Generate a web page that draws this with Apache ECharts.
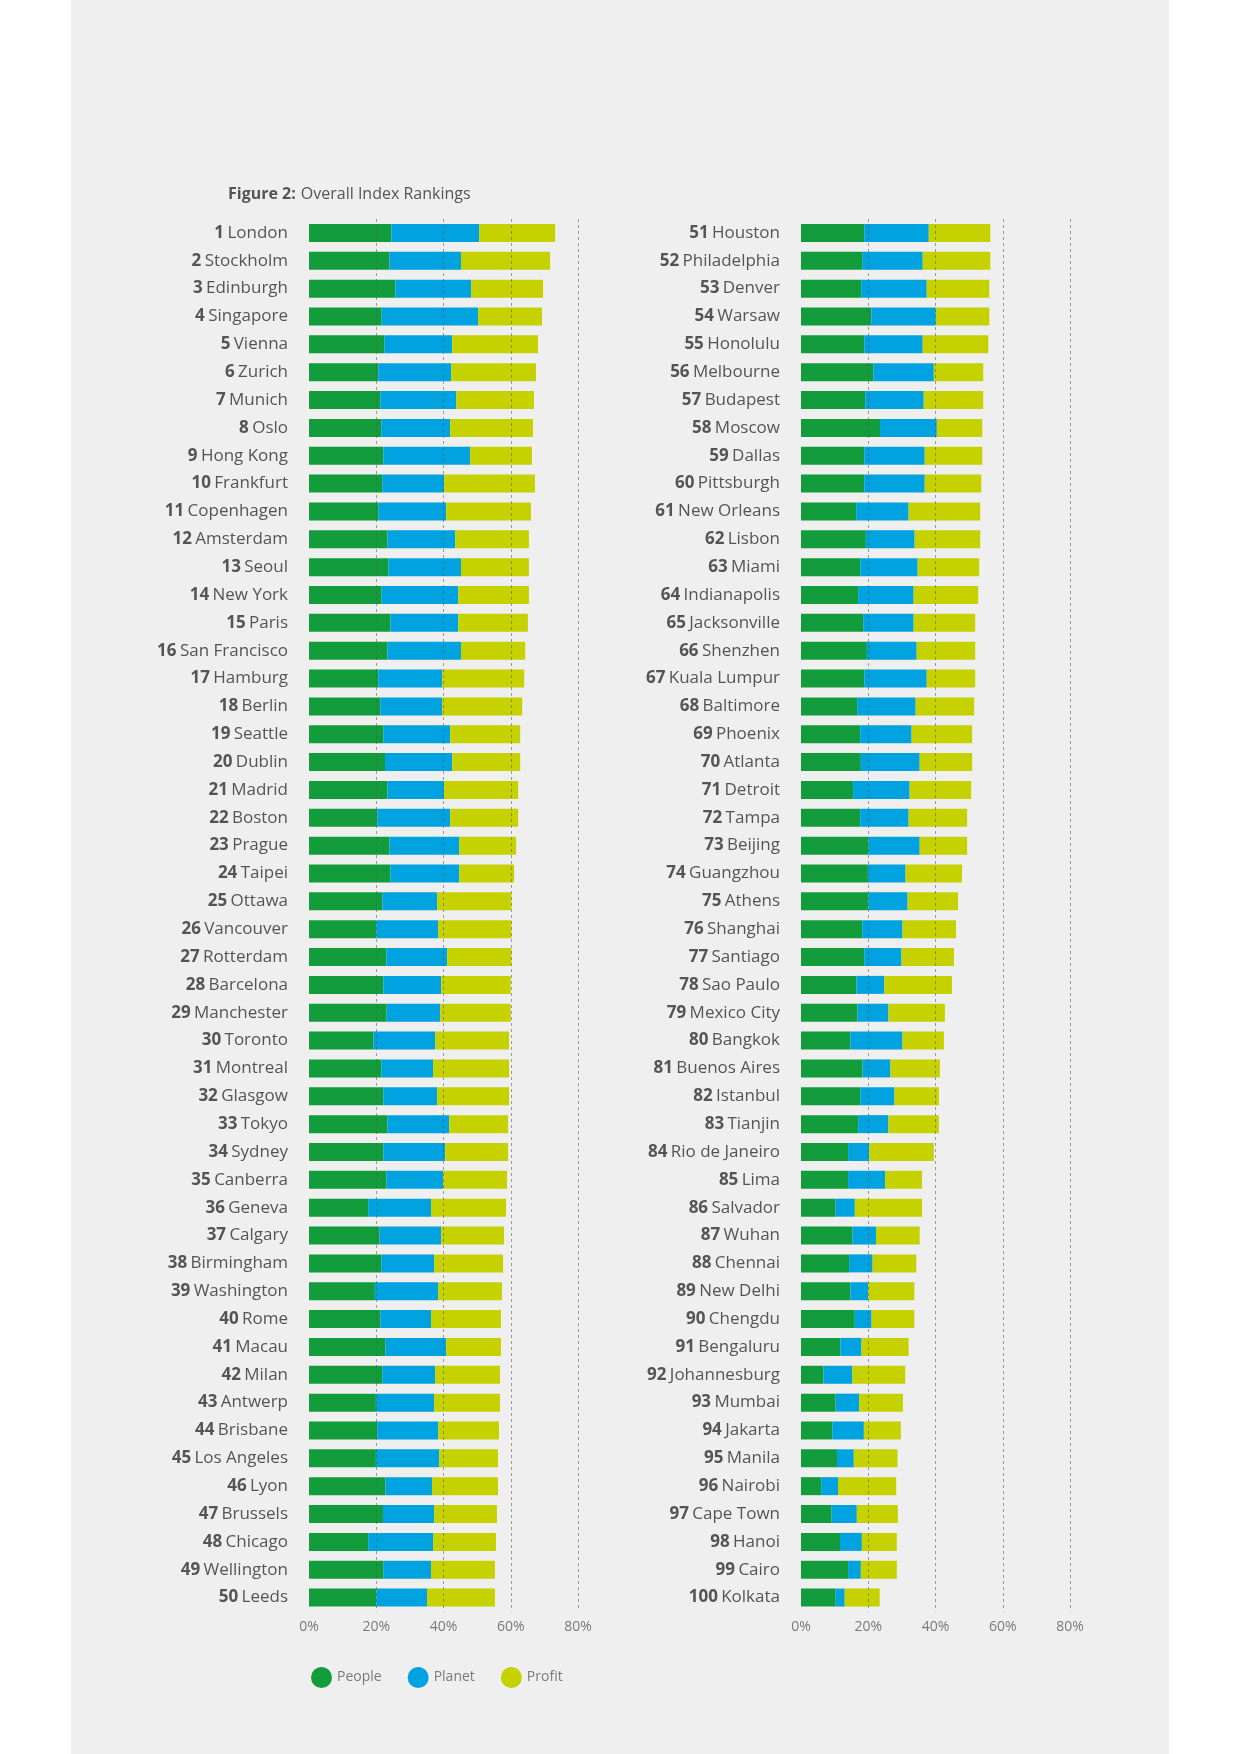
<!DOCTYPE html>
<html lang="en">
<head>
    <meta charset="UTF-8" />
    <title>Figure 2: Overall Index Rankings</title>
    <script src="https://cdn.jsdelivr.net/npm/echarts@6.0.0/dist/echarts.min.js"></script>
    <style>
        body {
            margin: 0;
            padding: 0;
            background: #ffffff;
        }
        #chart {
            width: 1240px;
            height: 1754px;
        }
    </style>
</head>
<body>
    <div id="chart"></div>

    <script>
        // cities in rank order, 1..100
        const cities = [
            'London', 'Stockholm', 'Edinburgh', 'Singapore', 'Vienna', 'Zurich', 'Munich', 'Oslo', 'Hong Kong', 'Frankfurt',
            'Copenhagen', 'Amsterdam', 'Seoul', 'New York', 'Paris', 'San Francisco', 'Hamburg', 'Berlin', 'Seattle', 'Dublin',
            'Madrid', 'Boston', 'Prague', 'Taipei', 'Ottawa', 'Vancouver', 'Rotterdam', 'Barcelona', 'Manchester', 'Toronto',
            'Montreal', 'Glasgow', 'Tokyo', 'Sydney', 'Canberra', 'Geneva', 'Calgary', 'Birmingham', 'Washington', 'Rome',
            'Macau', 'Milan', 'Antwerp', 'Brisbane', 'Los Angeles', 'Lyon', 'Brussels', 'Chicago', 'Wellington', 'Leeds',
            'Houston', 'Philadelphia', 'Denver', 'Warsaw', 'Honolulu', 'Melbourne', 'Budapest', 'Moscow', 'Dallas', 'Pittsburgh',
            'New Orleans', 'Lisbon', 'Miami', 'Indianapolis', 'Jacksonville', 'Shenzhen', 'Kuala Lumpur', 'Baltimore', 'Phoenix', 'Atlanta',
            'Detroit', 'Tampa', 'Beijing', 'Guangzhou', 'Athens', 'Shanghai', 'Santiago', 'Sao Paulo', 'Mexico City', 'Bangkok',
            'Buenos Aires', 'Istanbul', 'Tianjin', 'Rio de Janeiro', 'Lima', 'Salvador', 'Wuhan', 'Chennai', 'New Delhi', 'Chengdu',
            'Bengaluru', 'Johannesburg', 'Mumbai', 'Jakarta', 'Manila', 'Nairobi', 'Cape Town', 'Hanoi', 'Cairo', 'Kolkata'
        ];

        // sub-index contributions, %
        const people = [
            24.5, 23.9, 25.7, 21.6, 22.4, 20.6, 21.2, 21.5, 22.1, 21.8,
            20.6, 23.3, 23.6, 21.6, 24.2, 23.3, 20.6, 21.2, 22.1, 22.6,
            23.3, 20.3, 23.9, 24.2, 21.8, 20.0, 23.0, 22.1, 23.1, 19.2,
            21.5, 22.1, 23.3, 22.1, 23.0, 17.6, 21.0, 21.5, 19.6, 21.2,
            22.7, 21.8, 19.9, 20.3, 19.9, 22.7, 22.0, 17.6, 22.1, 20.0,
            18.8, 18.2, 17.9, 20.9, 18.8, 21.5, 19.1, 23.5, 18.8, 18.8,
            16.4, 19.3, 17.6, 17.0, 18.5, 19.6, 18.8, 16.7, 17.6, 17.8,
            15.5, 17.6, 20.0, 19.9, 20.1, 18.2, 18.8, 16.5, 16.8, 14.7,
            18.3, 17.6, 17.0, 14.0, 14.0, 10.3, 15.3, 14.3, 14.7, 16.0,
            11.7, 6.7, 10.3, 9.3, 10.7, 6.0, 9.1, 11.6, 14.0, 10.3
        ];
        const planet = [
            26.1, 21.3, 22.5, 28.7, 20.2, 21.7, 22.6, 20.5, 25.8, 18.4,
            20.2, 20.2, 21.6, 22.8, 20.2, 21.9, 19.0, 18.4, 19.9, 20.0,
            16.9, 21.7, 20.8, 20.5, 16.3, 18.4, 18.1, 17.2, 15.9, 18.3,
            15.4, 16.0, 18.4, 18.4, 16.9, 18.7, 18.3, 15.7, 18.8, 15.1,
            18.1, 15.7, 17.3, 18.1, 18.8, 13.9, 15.2, 19.3, 14.2, 15.1,
            19.2, 18.0, 19.5, 19.2, 17.4, 18.0, 17.4, 16.9, 18.0, 18.0,
            15.6, 14.5, 17.1, 16.5, 15.0, 14.8, 18.6, 17.4, 15.3, 17.5,
            16.8, 14.4, 15.3, 11.2, 11.6, 12.0, 11.1, 8.3, 9.2, 15.5,
            8.3, 10.2, 9.0, 6.3, 11.0, 5.7, 7.0, 7.0, 5.3, 5.0,
            6.3, 8.6, 7.0, 9.4, 5.0, 5.0, 7.5, 6.5, 3.8, 2.7
        ];
        const profit = [
            22.6, 26.5, 21.4, 19.0, 25.5, 25.2, 23.1, 24.6, 18.4, 27.0,
            25.2, 21.9, 20.2, 21.0, 20.7, 19.1, 24.4, 23.8, 20.8, 20.2,
            22.0, 20.2, 16.9, 16.3, 22.1, 21.8, 19.1, 20.7, 21.0, 22.0,
            22.6, 21.4, 17.5, 18.7, 19.0, 22.3, 18.7, 20.5, 19.0, 20.8,
            16.3, 19.3, 19.6, 18.1, 17.5, 19.6, 18.7, 18.7, 19.0, 20.2,
            18.3, 20.1, 18.6, 15.9, 19.5, 14.7, 17.7, 13.5, 17.1, 16.8,
            21.3, 19.5, 18.3, 19.2, 18.3, 17.4, 14.4, 17.4, 18.0, 15.6,
            18.3, 17.4, 14.1, 16.8, 15.0, 15.9, 15.6, 20.1, 16.8, 12.3,
            14.7, 13.2, 15.0, 19.2, 11.0, 20.0, 13.0, 13.0, 13.7, 12.7,
            14.0, 15.7, 13.0, 11.0, 13.0, 17.3, 12.2, 10.4, 10.7, 10.4
        ];

        const seriesNames = ['People', 'Planet', 'Profit'];
        const colors = ['#129c3b', '#00a3df', '#c6d200'];
        const xTicks = [0, 20, 40, 60, 80];

        const FONT = '"Open Sans", "DejaVu Sans", sans-serif';
        const chart = echarts.init(document.getElementById('chart'));

        function half(arr, g) {
            return g === 0 ? arr.slice(0, 50) : arr.slice(50, 100);
        }

        const grids = [
            { left: 309, top: 219, width: 269, height: 1392.5 },
            { left: 801, top: 219, width: 269, height: 1392.5 }
        ];

        const xAxes = grids.map((g, i) => ({
            type: 'value',
            gridIndex: i,
            min: xTicks[0],
            max: xTicks[xTicks.length - 1],
            interval: 20,
            z: 10,
            axisLine: { show: false },
            axisTick: { show: false },
            axisLabel: {
                formatter: '{value}%',
                margin: 9,
                color: '#7a7a7a',
                fontFamily: FONT,
                fontSize: 14
            },
            splitLine: {
                show: true,
                showMinLine: false,
                lineStyle: { type: [3, 3], color: 'rgba(85,85,85,0.55)', width: 1 }
            }
        }));

        const yAxes = grids.map((g, i) => ({
            type: 'category',
            gridIndex: i,
            inverse: true,
            data: half(cities, i),
            axisLine: { show: false },
            axisTick: { show: false },
            axisLabel: {
                margin: 21,
                formatter: (value, idx) => '{n|' + (i * 50 + idx + 1) + '} {c|' + value + '}',
                rich: {
                    n: { fontFamily: FONT, fontSize: 17, fontWeight: 'bold', color: '#555555' },
                    c: { fontFamily: FONT, fontSize: 17, color: '#555555' }
                }
            }
        }));

        const valueSets = [people, planet, profit];
        const series = [];
        [0, 1].forEach(g => {
            valueSets.forEach((vals, k) => {
                series.push({
                    name: seriesNames[k],
                    type: 'bar',
                    stack: 'total' + g,
                    xAxisIndex: g,
                    yAxisIndex: g,
                    barWidth: 18,
                    itemStyle: { color: colors[k] },
                    data: half(vals, g)
                });
            });
        });

        chart.setOption({
            animation: false,
            backgroundColor: '#ffffff',
            graphic: [
                {
                    type: 'rect',
                    z: -10,
                    silent: true,
                    shape: { x: 71, y: 0, width: 1098, height: 1754 },
                    style: { fill: '#efefef' }
                }
            ],
            title: {
                left: 228,
                top: 185,
                padding: 0,
                text: '{b|Figure 2:} {r|Overall Index Rankings}',
                textStyle: {
                    fontWeight: 'normal',
                    rich: {
                        b: { fontFamily: FONT, fontSize: 16, fontWeight: 'bold', color: '#555555' },
                        r: { fontFamily: FONT, fontSize: 16, fontWeight: 'normal', color: '#555555' }
                    }
                }
            },
            legend: {
                left: 306,
                top: 1662,
                icon: 'circle',
                itemWidth: 21,
                itemHeight: 21,
                itemGap: 26,
                data: seriesNames,
                textStyle: { fontFamily: FONT, fontSize: 14, color: '#7a7a7a' }
            },
            grid: grids,
            xAxis: xAxes,
            yAxis: yAxes,
            series: series
        });
    </script>
</body>
</html>
